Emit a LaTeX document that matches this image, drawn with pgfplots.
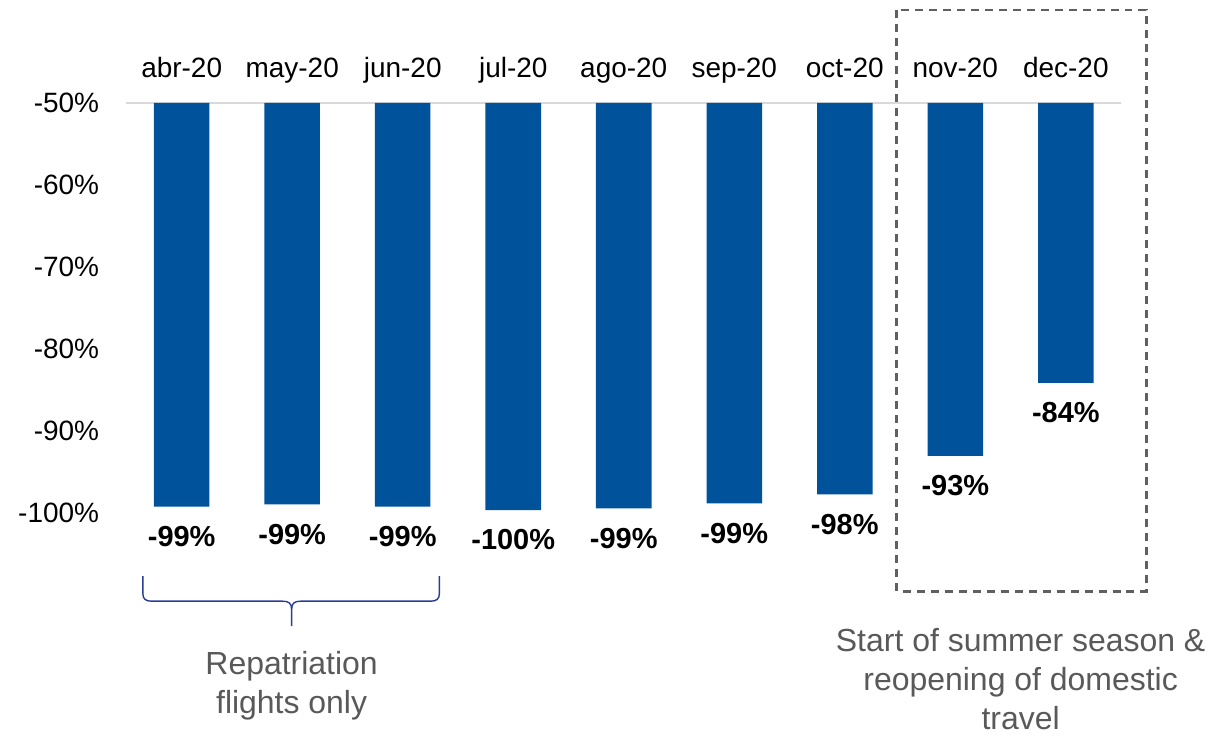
\documentclass[border=0pt]{standalone}
\usepackage{fontspec}
\setmainfont{Liberation Sans}
\usepackage{pgfplots}
\usepackage{pgfplotstable}
\pgfplotsset{compat=1.18}
\definecolor{barblue}{RGB}{0,83,155}
\definecolor{bracec}{RGB}{40,60,150}
\definecolor{boxgray}{RGB}{96,96,96}
\definecolor{txtgray}{RGB}{89,89,89}
\definecolor{gridc}{RGB}{217,217,217}
\pgfplotstableread{
x v lab
0 -99.2 -99
1 -98.9 -99
2 -99.2 -99
3 -99.6 -100
4 -99.4 -99
5 -98.8 -99
6 -97.7 -98
7 -93.0 -93
8 -84.1 -84
}\data
\begin{document}
\begin{tikzpicture}
\begin{axis}[
  at={(63.3pt,-51.5pt)}, anchor=north west,
  scale only axis, width=498pt, height=205.5pt,
  xmin=-0.5, xmax=8.5, ymin=-50, ymax=0,
  clip=false,
  axis line style={draw=none}, tick style={draw=none},
  major tick length=0pt,
  xtick={0,...,8},
  xticklabels={abr-20,may-20,jun-20,jul-20,ago-20,sep-20,oct-20,nov-20,dec-20},
  xticklabel pos=upper,
  xticklabel style={anchor=base, yshift=12.5pt, inner sep=0pt, font=\fontsize{14}{16}\selectfont},
  ytick={-50,-40,-30,-20,-10,0},
  yticklabels={-100\%,-90\%,-80\%,-70\%,-60\%,-50\%},
  yticklabel style={anchor=east, inner sep=0pt, xshift=-13.5pt, font=\fontsize{14}{16}\selectfont},
  ybar, bar width=27.8pt,
  nodes near coords={\pgfplotspointmeta\%},
  point meta=explicit symbolic,
  every node near coord/.append style={anchor=center, yshift=-15pt, font=\fontsize{14.5}{17}\selectfont\bfseries, text=black},
]
\draw[gridc, line width=1pt] (rel axis cs:0,1) -- (rel axis cs:1,1);
\addplot[fill=barblue, draw=none] table[x=x, y expr=\thisrow{v}+50, meta=lab] {\data};
\end{axis}
\begin{scope}[x=0.5pt, y=-0.5pt]
\path (0,0) rectangle (1212,731);
\draw[boxgray, line width=1.4pt, dash pattern=on 4pt off 3pt] (898,10) rectangle (1148,592);
\draw[bracec, line width=0.7pt] (143,577) -- (143,594) .. controls (143,600) and (146,602) .. (152,602) -- (283,602) .. controls (289,602) and (292,604) .. (292,610) -- (292,627);
\draw[bracec, line width=0.7pt] (440,577) -- (440,594) .. controls (440,600) and (437,602) .. (431,602) -- (301,602) .. controls (295,602) and (292,604) .. (292,610);
\node[text=txtgray, align=center, font=\fontsize{16}{19.5}\selectfont] at (292,687) {Repatriation\\flights only};
\node[text=txtgray, align=center, font=\fontsize{16}{19.5}\selectfont] at (1022,680) {Start of summer season \&\\reopening of domestic\\travel};
\end{scope}
\end{tikzpicture}
\end{document}
